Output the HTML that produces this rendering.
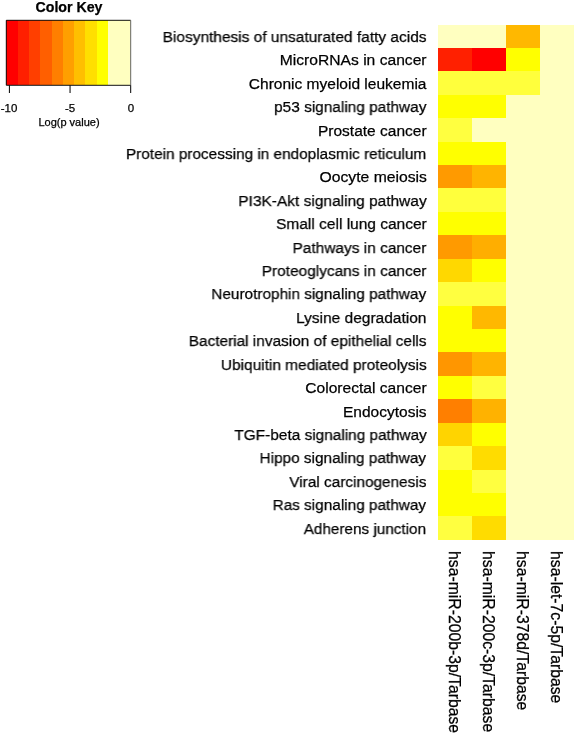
<!DOCTYPE html>
<html><head><meta charset="utf-8"><style>
html,body{margin:0;padding:0;background:#fff;}
body{width:575px;height:733px;position:relative;overflow:hidden;font-family:"Liberation Sans",sans-serif;color:#000;}
.a{position:absolute;white-space:nowrap;will-change:transform;-webkit-text-stroke:0.25px #000;}
.c{position:absolute;}
</style></head><body>

<svg class="c" style="left:0;top:0" width="575" height="733" viewBox="0 0 575 733" shape-rendering="crispEdges">
<rect x="438.40" y="24.50" width="34.02" height="23.72" fill="#FFFFC0"/>
<rect x="472.12" y="24.50" width="34.02" height="23.72" fill="#FFFFC0"/>
<rect x="505.85" y="24.50" width="34.02" height="23.72" fill="#FFB800"/>
<rect x="539.57" y="24.50" width="34.02" height="23.72" fill="#FFFFC0"/>
<rect x="438.40" y="47.92" width="34.02" height="23.72" fill="#FF2000"/>
<rect x="472.12" y="47.92" width="34.02" height="23.72" fill="#FF0000"/>
<rect x="505.85" y="47.92" width="34.02" height="23.72" fill="#FFFF00"/>
<rect x="539.57" y="47.92" width="34.02" height="23.72" fill="#FFFFC0"/>
<rect x="438.40" y="71.35" width="34.02" height="23.72" fill="#FFFF3C"/>
<rect x="472.12" y="71.35" width="34.02" height="23.72" fill="#FFFF3C"/>
<rect x="505.85" y="71.35" width="34.02" height="23.72" fill="#FFFF3C"/>
<rect x="539.57" y="71.35" width="34.02" height="23.72" fill="#FFFFC0"/>
<rect x="438.40" y="94.77" width="34.02" height="23.72" fill="#FFFF00"/>
<rect x="472.12" y="94.77" width="34.02" height="23.72" fill="#FFFF00"/>
<rect x="505.85" y="94.77" width="34.02" height="23.72" fill="#FFFFC0"/>
<rect x="539.57" y="94.77" width="34.02" height="23.72" fill="#FFFFC0"/>
<rect x="438.40" y="118.19" width="34.02" height="23.72" fill="#FFFF40"/>
<rect x="472.12" y="118.19" width="34.02" height="23.72" fill="#FFFFC0"/>
<rect x="505.85" y="118.19" width="34.02" height="23.72" fill="#FFFFC0"/>
<rect x="539.57" y="118.19" width="34.02" height="23.72" fill="#FFFFC0"/>
<rect x="438.40" y="141.61" width="34.02" height="23.72" fill="#FFFF00"/>
<rect x="472.12" y="141.61" width="34.02" height="23.72" fill="#FFFF00"/>
<rect x="505.85" y="141.61" width="34.02" height="23.72" fill="#FFFFC0"/>
<rect x="539.57" y="141.61" width="34.02" height="23.72" fill="#FFFFC0"/>
<rect x="438.40" y="165.04" width="34.02" height="23.72" fill="#FF9A00"/>
<rect x="472.12" y="165.04" width="34.02" height="23.72" fill="#FFB400"/>
<rect x="505.85" y="165.04" width="34.02" height="23.72" fill="#FFFFC0"/>
<rect x="539.57" y="165.04" width="34.02" height="23.72" fill="#FFFFC0"/>
<rect x="438.40" y="188.46" width="34.02" height="23.72" fill="#FFFF3C"/>
<rect x="472.12" y="188.46" width="34.02" height="23.72" fill="#FFFF3C"/>
<rect x="505.85" y="188.46" width="34.02" height="23.72" fill="#FFFFC0"/>
<rect x="539.57" y="188.46" width="34.02" height="23.72" fill="#FFFFC0"/>
<rect x="438.40" y="211.88" width="34.02" height="23.72" fill="#FFFF00"/>
<rect x="472.12" y="211.88" width="34.02" height="23.72" fill="#FFFF00"/>
<rect x="505.85" y="211.88" width="34.02" height="23.72" fill="#FFFFC0"/>
<rect x="539.57" y="211.88" width="34.02" height="23.72" fill="#FFFFC0"/>
<rect x="438.40" y="235.30" width="34.02" height="23.72" fill="#FF9A00"/>
<rect x="472.12" y="235.30" width="34.02" height="23.72" fill="#FFAE00"/>
<rect x="505.85" y="235.30" width="34.02" height="23.72" fill="#FFFFC0"/>
<rect x="539.57" y="235.30" width="34.02" height="23.72" fill="#FFFFC0"/>
<rect x="438.40" y="258.73" width="34.02" height="23.72" fill="#FFD800"/>
<rect x="472.12" y="258.73" width="34.02" height="23.72" fill="#FFFF00"/>
<rect x="505.85" y="258.73" width="34.02" height="23.72" fill="#FFFFC0"/>
<rect x="539.57" y="258.73" width="34.02" height="23.72" fill="#FFFFC0"/>
<rect x="438.40" y="282.15" width="34.02" height="23.72" fill="#FFFF40"/>
<rect x="472.12" y="282.15" width="34.02" height="23.72" fill="#FFFF40"/>
<rect x="505.85" y="282.15" width="34.02" height="23.72" fill="#FFFFC0"/>
<rect x="539.57" y="282.15" width="34.02" height="23.72" fill="#FFFFC0"/>
<rect x="438.40" y="305.57" width="34.02" height="23.72" fill="#FFFF00"/>
<rect x="472.12" y="305.57" width="34.02" height="23.72" fill="#FFB800"/>
<rect x="505.85" y="305.57" width="34.02" height="23.72" fill="#FFFFC0"/>
<rect x="539.57" y="305.57" width="34.02" height="23.72" fill="#FFFFC0"/>
<rect x="438.40" y="329.00" width="34.02" height="23.72" fill="#FFFF00"/>
<rect x="472.12" y="329.00" width="34.02" height="23.72" fill="#FFFF00"/>
<rect x="505.85" y="329.00" width="34.02" height="23.72" fill="#FFFFC0"/>
<rect x="539.57" y="329.00" width="34.02" height="23.72" fill="#FFFFC0"/>
<rect x="438.40" y="352.42" width="34.02" height="23.72" fill="#FF9600"/>
<rect x="472.12" y="352.42" width="34.02" height="23.72" fill="#FFB400"/>
<rect x="505.85" y="352.42" width="34.02" height="23.72" fill="#FFFFC0"/>
<rect x="539.57" y="352.42" width="34.02" height="23.72" fill="#FFFFC0"/>
<rect x="438.40" y="375.84" width="34.02" height="23.72" fill="#FFFF00"/>
<rect x="472.12" y="375.84" width="34.02" height="23.72" fill="#FFFF40"/>
<rect x="505.85" y="375.84" width="34.02" height="23.72" fill="#FFFFC0"/>
<rect x="539.57" y="375.84" width="34.02" height="23.72" fill="#FFFFC0"/>
<rect x="438.40" y="399.26" width="34.02" height="23.72" fill="#FF7F00"/>
<rect x="472.12" y="399.26" width="34.02" height="23.72" fill="#FFB200"/>
<rect x="505.85" y="399.26" width="34.02" height="23.72" fill="#FFFFC0"/>
<rect x="539.57" y="399.26" width="34.02" height="23.72" fill="#FFFFC0"/>
<rect x="438.40" y="422.69" width="34.02" height="23.72" fill="#FFD400"/>
<rect x="472.12" y="422.69" width="34.02" height="23.72" fill="#FFFF00"/>
<rect x="505.85" y="422.69" width="34.02" height="23.72" fill="#FFFFC0"/>
<rect x="539.57" y="422.69" width="34.02" height="23.72" fill="#FFFFC0"/>
<rect x="438.40" y="446.11" width="34.02" height="23.72" fill="#FFFF3C"/>
<rect x="472.12" y="446.11" width="34.02" height="23.72" fill="#FFDC00"/>
<rect x="505.85" y="446.11" width="34.02" height="23.72" fill="#FFFFC0"/>
<rect x="539.57" y="446.11" width="34.02" height="23.72" fill="#FFFFC0"/>
<rect x="438.40" y="469.53" width="34.02" height="23.72" fill="#FFFF00"/>
<rect x="472.12" y="469.53" width="34.02" height="23.72" fill="#FFFF40"/>
<rect x="505.85" y="469.53" width="34.02" height="23.72" fill="#FFFFC0"/>
<rect x="539.57" y="469.53" width="34.02" height="23.72" fill="#FFFFC0"/>
<rect x="438.40" y="492.95" width="34.02" height="23.72" fill="#FFFF00"/>
<rect x="472.12" y="492.95" width="34.02" height="23.72" fill="#FFFF00"/>
<rect x="505.85" y="492.95" width="34.02" height="23.72" fill="#FFFFC0"/>
<rect x="539.57" y="492.95" width="34.02" height="23.72" fill="#FFFFC0"/>
<rect x="438.40" y="516.38" width="34.02" height="23.72" fill="#FFFF40"/>
<rect x="472.12" y="516.38" width="34.02" height="23.72" fill="#FFDC00"/>
<rect x="505.85" y="516.38" width="34.02" height="23.72" fill="#FFFFC0"/>
<rect x="539.57" y="516.38" width="34.02" height="23.72" fill="#FFFFC0"/>
<rect x="6.30" y="20.30" width="11.61" height="65.00" fill="#FF0000"/>
<rect x="17.61" y="20.30" width="11.61" height="65.00" fill="#FF1F00"/>
<rect x="28.92" y="20.30" width="11.61" height="65.00" fill="#FF3F00"/>
<rect x="40.23" y="20.30" width="11.61" height="65.00" fill="#FF5F00"/>
<rect x="51.54" y="20.30" width="11.61" height="65.00" fill="#FF7F00"/>
<rect x="62.85" y="20.30" width="11.61" height="65.00" fill="#FF9F00"/>
<rect x="74.15" y="20.30" width="11.61" height="65.00" fill="#FFBF00"/>
<rect x="85.46" y="20.30" width="11.61" height="65.00" fill="#FFDF00"/>
<rect x="96.77" y="20.30" width="11.61" height="65.00" fill="#FFFF00"/>
<rect x="108.08" y="20.30" width="11.61" height="65.00" fill="#FFFFC0"/>
<rect x="119.39" y="20.30" width="11.61" height="65.00" fill="#FFFFC0"/>
</svg>
<svg class="c" style="left:0;top:0" width="575" height="733" viewBox="0 0 575 733">
<path d="M130.70 20.30 H6.30 V85.30 H130.70" fill="none" stroke="#111" stroke-width="1"/>
<line x1="130.70" y1="20.30" x2="130.70" y2="85.30" stroke="#666" stroke-width="1"/>
<line x1="9.4" y1="85.3" x2="9.4" y2="93" stroke="#000" stroke-width="1"/>
<line x1="70.05" y1="85.3" x2="70.05" y2="93" stroke="#000" stroke-width="1"/>
<line x1="130.7" y1="85.3" x2="130.7" y2="93" stroke="#000" stroke-width="1"/>
</svg>
<div class="a" style="right:148.50px;top:26.84px;font-size:15.5px;line-height:20px;transform-origin:100% 50%;transform:scaleX(0.9977)">Biosynthesis of unsaturated fatty acids</div>
<div class="a" style="right:148.50px;top:50.26px;font-size:15.5px;line-height:20px;transform-origin:100% 50%;transform:scaleX(1.0084)">MicroRNAs in cancer</div>
<div class="a" style="right:148.50px;top:73.69px;font-size:15.5px;line-height:20px;transform-origin:100% 50%;transform:scaleX(1.0011)">Chronic myeloid leukemia</div>
<div class="a" style="right:148.50px;top:97.11px;font-size:15.5px;line-height:20px;transform-origin:100% 50%;transform:scaleX(0.9927)">p53 signaling pathway</div>
<div class="a" style="right:148.50px;top:120.53px;font-size:15.5px;line-height:20px;transform-origin:100% 50%;transform:scaleX(1.0)">Prostate cancer</div>
<div class="a" style="right:148.50px;top:143.95px;font-size:15.5px;line-height:20px;transform-origin:100% 50%;transform:scaleX(0.9904)">Protein processing in endoplasmic reticulum</div>
<div class="a" style="right:148.50px;top:167.38px;font-size:15.5px;line-height:20px;transform-origin:100% 50%;transform:scaleX(1.0145)">Oocyte meiosis</div>
<div class="a" style="right:148.50px;top:190.80px;font-size:15.5px;line-height:20px;transform-origin:100% 50%;transform:scaleX(0.9984)">PI3K-Akt signaling pathway</div>
<div class="a" style="right:148.50px;top:214.22px;font-size:15.5px;line-height:20px;transform-origin:100% 50%;transform:scaleX(0.9993)">Small cell lung cancer</div>
<div class="a" style="right:148.50px;top:237.65px;font-size:15.5px;line-height:20px;transform-origin:100% 50%;transform:scaleX(0.9962)">Pathways in cancer</div>
<div class="a" style="right:148.50px;top:261.07px;font-size:15.5px;line-height:20px;transform-origin:100% 50%;transform:scaleX(0.9957)">Proteoglycans in cancer</div>
<div class="a" style="right:148.50px;top:284.49px;font-size:15.5px;line-height:20px;transform-origin:100% 50%;transform:scaleX(0.9893)">Neurotrophin signaling pathway</div>
<div class="a" style="right:148.50px;top:307.91px;font-size:15.5px;line-height:20px;transform-origin:100% 50%;transform:scaleX(0.9992)">Lysine degradation</div>
<div class="a" style="right:148.50px;top:331.34px;font-size:15.5px;line-height:20px;transform-origin:100% 50%;transform:scaleX(0.9928)">Bacterial invasion of epithelial cells</div>
<div class="a" style="right:148.50px;top:354.76px;font-size:15.5px;line-height:20px;transform-origin:100% 50%;transform:scaleX(0.9961)">Ubiquitin mediated proteolysis</div>
<div class="a" style="right:148.50px;top:378.18px;font-size:15.5px;line-height:20px;transform-origin:100% 50%;transform:scaleX(1.0059)">Colorectal cancer</div>
<div class="a" style="right:148.50px;top:401.60px;font-size:15.5px;line-height:20px;transform-origin:100% 50%;transform:scaleX(1.0)">Endocytosis</div>
<div class="a" style="right:148.50px;top:425.03px;font-size:15.5px;line-height:20px;transform-origin:100% 50%;transform:scaleX(0.9932)">TGF-beta signaling pathway</div>
<div class="a" style="right:148.50px;top:448.45px;font-size:15.5px;line-height:20px;transform-origin:100% 50%;transform:scaleX(0.991)">Hippo signaling pathway</div>
<div class="a" style="right:148.50px;top:471.87px;font-size:15.5px;line-height:20px;transform-origin:100% 50%;transform:scaleX(0.9905)">Viral carcinogenesis</div>
<div class="a" style="right:148.50px;top:495.30px;font-size:15.5px;line-height:20px;transform-origin:100% 50%;transform:scaleX(0.9896)">Ras signaling pathway</div>
<div class="a" style="right:148.50px;top:518.72px;font-size:15.5px;line-height:20px;transform-origin:100% 50%;transform:scaleX(0.9862)">Adherens junction</div>
<div class="a" style="left:464.42px;top:551.00px;font-size:15.75px;line-height:20px;transform-origin:0 0;transform:rotate(90deg)">hsa-miR-200b-3p/Tarbase</div>
<div class="a" style="left:498.14px;top:551.00px;font-size:15.75px;line-height:20px;transform-origin:0 0;transform:rotate(90deg)">hsa-miR-200c-3p/Tarbase</div>
<div class="a" style="left:531.87px;top:551.00px;font-size:15.75px;line-height:20px;transform-origin:0 0;transform:rotate(90deg)">hsa-miR-378d/Tarbase</div>
<div class="a" style="left:565.59px;top:551.00px;font-size:15.75px;line-height:20px;transform-origin:0 0;transform:rotate(90deg)">hsa-let-7c-5p/Tarbase</div>
<div class="a" style="left:18.5px;width:100px;text-align:center;top:-3.12px;font-size:14.2px;line-height:20px;font-weight:bold">Color Key</div>
<div class="a" style="left:-20.60px;width:60px;text-align:center;top:97.72px;font-size:11.5px;line-height:20px">-10</div>
<div class="a" style="left:40.05px;width:60px;text-align:center;top:97.72px;font-size:11.5px;line-height:20px">-5</div>
<div class="a" style="left:100.70px;width:60px;text-align:center;top:97.72px;font-size:11.5px;line-height:20px">0</div>
<div class="a" style="left:18.70px;width:100px;text-align:center;top:111.79px;font-size:11px;line-height:20px">Log(p value)</div>
</body></html>
